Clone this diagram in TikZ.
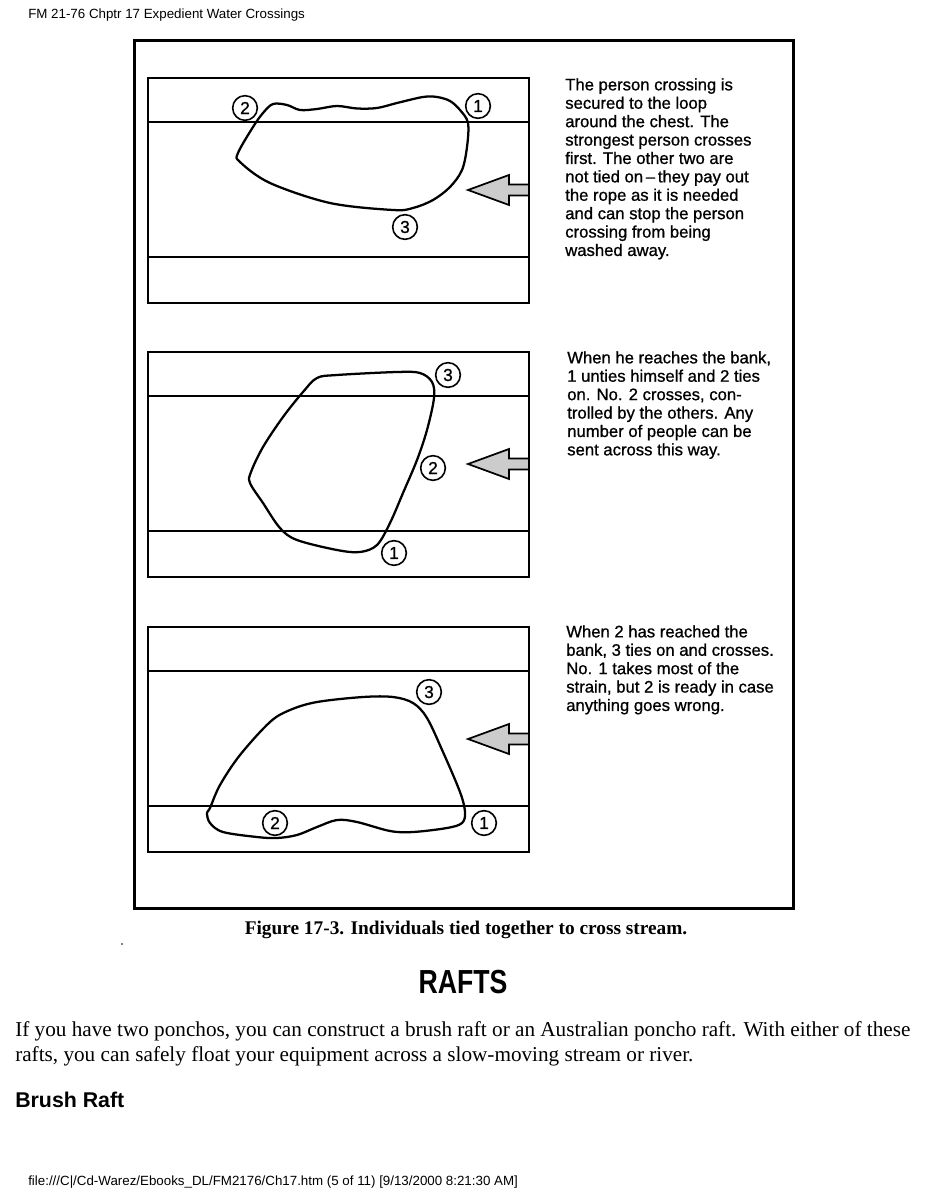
\documentclass[tikz,border=0pt]{standalone}
\usepackage{fontspec}
\setmainfont{Liberation Serif}
\newfontfamily\sansfont{Liberation Sans}
\newfontfamily\scanfont{Liberation Sans}[FakeBold=0.9]
\usetikzlibrary{
		calc,
		positioning
	}
\tikzset{
		>=stealth,
		frame/.style={line width=2.25pt},
		bank/.style={line width=1.5pt},
		rope/.style={line width=1.7pt, line join=round},
		person/.style={circle, draw, line width=1.2pt, fill=white, inner sep=0pt,
			minimum size=18.5pt, font=\scanfont\fontsize{13}{13}\selectfont},
		current/.style={draw, line width=1.3pt, fill=gray!40, line join=miter},
		note/.style={anchor=north west, inner sep=0pt, align=left,
			font=\scanfont\fontsize{12.5}{13.8}\selectfont}
	}

\begin{document}
\begin{tikzpicture}[x=0.75pt, y=-0.75pt]
            \useasboundingbox (0,0) rectangle (926,1198);

            \node[anchor=base west, inner sep=0pt, font=\sansfont\fontsize{10}{12}\selectfont] (head) at (28,19) {FM 21-76 Chptr 17 Expedient Water Crossings};

            % outer frame
            \draw[frame] (134,41) rectangle (793,908);

            % three panels: banks, stream and current arrow
            \foreach \t in {78,352,627} {
            \draw[bank] (148,\t) rectangle (529,{\t+225});
            \draw[bank] (148,{\t+44}) -- (529,{\t+44});
            \draw[bank] (148,{\t+179}) -- (529,{\t+179});
            \draw[current, shift={(468,{\t+112})}] (0,0) -- (41,-15) -- (41,-5.5) -- (61,-5.5) -- (61,5.5) -- (41,5.5) -- (41,15) -- cycle;
            }

            % rope loops
            \draw[rope] plot[smooth cycle, tension=0.55] coordinates {(273,104) (287,105) (300,110) (317,109) (337,106) (357,108.5) (377,108) (397,103) (423,97) (437,97) (450,101) (460,110) (468,123) (467,147) (462,170) (450,187) (433,200) (413,208) (393,210) (330,203) (270,183) (240,162) (238,153) (253,127) (263,113)};
            \draw[rope] plot[smooth cycle, tension=0.55] coordinates {(303,392) (317,378) (337,375) (397,372) (420,373) (432,382) (434,398) (427,430) (417,460) (403,493) (390,523) (377,545) (360,552) (337,550) (297,540) (280,528) (263,503) (250,483) (251,472) (263,447) (283,417)};
            \draw[rope] plot[smooth cycle, tension=0.55] coordinates {(210,808) (220,785) (240,755) (270,722) (290,710) (317,702) (363,697) (393,697) (413,703) (427,718) (443,752) (460,792) (465,812) (462,823) (447,828) (413,832) (390,831) (357,822) (337,820) (317,827) (297,835) (277,838) (257,837) (223,832) (210,823) (207,813)};

            % the three people
            \node[person] (a2) at (245,108) {2};
            \node[person] (a1) at (478,106) {1};
            \node[person] (a3) at (405,227) {3};
            \node[person] (b3) at (448,375) {3};
            \node[person] (b2) at (433,468) {2};
            \node[person] (b1) at (394,553) {1};
            \node[person] (c3) at (429,692) {3};
            \node[person] (c2) at (275,823) {2};
            \node[person] (c1) at (484,823) {1};

            % notes
            \node[note] (notea) at (565,78) {The person crossing is\\secured to the loop\\around the chest. The\\strongest person crosses\\first. The other two are\\not tied on\,\textendash\,they pay out\\the rope as it is needed\\and can stop the person\\crossing from being\\washed away.};
            \node[note] (noteb) at (567,351) {When he reaches the bank,\\1 unties himself and 2 ties\\on. No. 2 crosses, con-\\trolled by the others. Any\\number of people can be\\sent across this way.};
            \node[note] (notec) at (566,625) {When 2 has reached the\\bank, 3 ties on and crosses.\\No. 1 takes most of the\\strain, but 2 is ready in case\\anything goes wrong.};

            \node[anchor=base, inner sep=0pt, font=\bfseries\fontsize{14.5}{16}\selectfont] (caption) at (466,934) {Figure 17-3. Individuals tied together to cross stream.};
            \fill (122,944) circle (0.8);

            \node[anchor=base, inner sep=0pt, xscale=0.8, font=\sansfont\bfseries\fontsize{25}{28}\selectfont] (rafts) at (463,993) {RAFTS};
            \node[anchor=base west, inner sep=0pt, align=left, font=\fontsize{15.9}{18.75}\selectfont] (body) at (15,1061) {If you have two ponchos, you can construct a brush raft or an Australian poncho raft. With either of these\\rafts, you can safely float your equipment across a slow-moving stream or river.};
            \node[anchor=base west, inner sep=0pt, font=\sansfont\bfseries\fontsize{16}{18}\selectfont] (brush) at (15,1107) {Brush Raft};

            \node[anchor=base west, inner sep=0pt, font=\sansfont\fontsize{10}{12}\selectfont] (foot) at (28,1185) {file:///C|/Cd-Warez/Ebooks\_DL/FM2176/Ch17.htm (5 of 11) [9/13/2000 8:21:30 AM]};

        \end{tikzpicture}
\end{document}
